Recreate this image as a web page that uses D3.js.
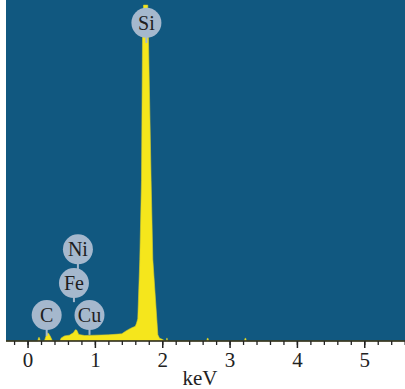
<!DOCTYPE html>
<html><head><meta charset="utf-8">
<script src="https://cdn.jsdelivr.net/npm/d3@7/dist/d3.min.js"></script>
<style>body{margin:0;background:#fff}svg{display:block}</style>
</head><body>
<svg id="c" width="405" height="389"></svg>
<script>
// Spectrum: energy (keV) and counts (arbitrary units, 0-100)
const energy = [-0.32,0.0,0.15,0.165,0.175,0.19,0.25,0.27,0.29,0.31,0.34,0.37,0.48,0.5,0.55,0.62,0.68,0.71,0.73,0.76,0.85,1.0,1.2,1.4,1.45,1.5,1.55,1.6,1.618,1.637,1.667,1.692,1.707,1.722,1.785,1.795,1.835,1.86,1.92,1.935,1.96,2.0,2.04,2.06,2.07,2.08,2.66,2.67,2.68,2.69,3.22,3.23,3.24,3.25,5.6];
const counts = [0,0,0,1.0,1.0,0,0,1.2,2.3,2.3,1.3,0,0,0.9,1.5,1.7,2.4,3.3,3.2,1.9,1.6,1.7,1.8,2.1,2.8,3.4,3.9,4.3,5.2,6.5,24,47,89,98.5,98.5,89,47,24,6.2,1.8,0.8,0.5,0,0,0.9,0,0,0.8,0.8,0,0,0.8,0.8,0,0];

const majorTicks = [0,1,2,3,4,5];
const tickLabels = ["0","1","2","3","4","5"];
const xLabel = "keV";

// Element annotations
const labelNames = ["Si","Ni","Fe","C","Cu"];
const labelEnergy = [1.765,0.748,0.689,0.284,0.92];
const labelLevel = [93.3,26.9,17.0,7.6,7.6];
const stemEnd = [87.4,21.1,11.4,1.5,1.8];

(function(){
const svg = d3.select("#c");
const pL = 6, pR = 405, pT = 0, pB = 341;
const x = d3.scaleLinear().domain([-0.32,5.605]).range([pL,pR]);
const y = d3.scaleLinear().domain([0,100]).range([pB,pT]);
const serif = "'Liberation Serif', 'Times New Roman', serif";

svg.append("rect").attr("x",pL).attr("y",pT).attr("width",pR-pL).attr("height",pB-pT).attr("fill","#115880");

const pts = energy.map((e,i)=>[e,counts[i]]);
const area = d3.area().x(d=>x(d[0])).y0(y(0)).y1(d=>y(d[1]));
svg.append("path").datum(pts).attr("d",area).attr("fill","#f5e61c").attr("stroke","#d8cf2a").attr("stroke-width",0.6);

// Axis
const minor = d3.range(-0.2,5.61,0.2).map(v=>+v.toFixed(2));
const gMinor = svg.append("g").attr("transform",`translate(0,${pB})`)
  .call(d3.axisBottom(x).tickValues(minor).tickSize(4).tickFormat(""));
gMinor.select(".domain").remove();
gMinor.selectAll("line").attr("stroke","#222").attr("stroke-width",1.3);
const gMajor = svg.append("g").attr("transform",`translate(0,${pB})`)
  .call(d3.axisBottom(x).tickValues(majorTicks).tickSize(7).tickFormat((d,i)=>tickLabels[i]));
gMajor.select(".domain").remove();
gMajor.selectAll("line").attr("stroke","#222").attr("stroke-width",1.5);
gMajor.selectAll("text").attr("y",26).attr("dy",null)
  .attr("font-family",serif).attr("font-size",21).attr("fill","#222");
svg.append("line").attr("x1",pL).attr("x2",pR).attr("y1",pB).attr("y2",pB).attr("stroke","#222").attr("stroke-width",1.6);

svg.append("text").attr("x",200).attr("y",385).attr("text-anchor","middle")
  .attr("font-family",serif).attr("font-size",21).attr("fill","#222").text(xLabel);

// Labels
const r = 15;
labelNames.forEach((n,i)=>{
  const cx = x(labelEnergy[i]), cy = y(labelLevel[i]);
  svg.append("line").attr("x1",cx).attr("x2",cx).attr("y1",cy+r-1).attr("y2",y(stemEnd[i]))
    .attr("stroke","#a5b8cd").attr("stroke-width",2);
  svg.append("circle").attr("cx",cx).attr("cy",cy).attr("r",r).attr("fill","#a5b8cd");
  svg.append("text").attr("x",cx).attr("y",cy+7).attr("text-anchor","middle")
    .attr("font-family",serif).attr("font-size",20).attr("fill","#1e1e1e").text(n);
});
})();
</script>
</body></html>
